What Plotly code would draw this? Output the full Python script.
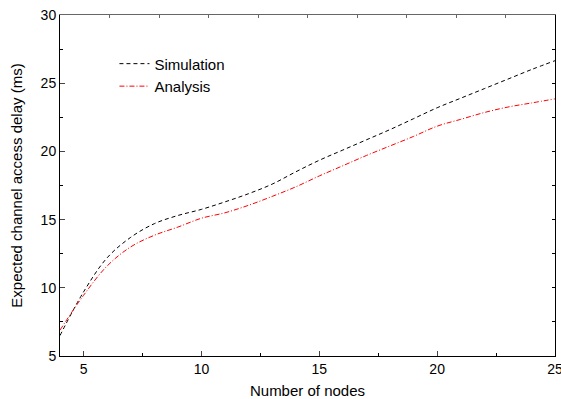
import plotly.graph_objects as go

nodes = list(range(4, 26))
simulation = [6.5, 9.7, 12.2, 13.7, 14.7, 15.3, 15.75, 16.3, 16.9, 17.6, 18.5,
              19.35, 20.1, 20.85, 21.6, 22.4, 23.2, 23.9, 24.6, 25.3, 26.0, 26.65]
analysis = [6.9, 9.45, 11.6, 13.0, 13.85, 14.45, 15.1, 15.5, 16.05, 16.7, 17.4,
            18.2, 18.95, 19.7, 20.4, 21.1, 21.85, 22.35, 22.85, 23.25, 23.55, 23.85]
x_ticks = [5, 10, 15, 20, 25]
y_ticks = [5, 10, 15, 20, 25, 30]

font = dict(family="Liberation Sans, Arial, sans-serif", size=14, color="black")

fig = go.Figure()
fig.add_trace(go.Scatter(x=nodes, y=simulation, mode="lines", name="Simulation",
                         line=dict(color="black", width=1, dash="4px,3px", shape="spline")))
fig.add_trace(go.Scatter(x=nodes, y=analysis, mode="lines", name="Analysis",
                         xaxis="x2", yaxis="y2",
                         line=dict(color="red", width=1, dash="5px,2px,1px,2px", shape="spline")))

fig.update_layout(
    width=561, height=399,
    margin=dict(l=60, r=6, t=15, b=43, autoexpand=False),
    paper_bgcolor="white", plot_bgcolor="white",
    font=font,
    showlegend=True,
    legend=dict(x=0.11, y=0.905, xanchor="left", yanchor="top",
                bgcolor="rgba(0,0,0,0)", font=dict(size=15), tracegroupgap=0),
    xaxis=dict(range=[4, 25], tickvals=x_ticks, ticks="inside", ticklen=5,
               showline=True, linecolor="black", linewidth=1, showgrid=False,
               zeroline=False, tickfont=dict(size=14), ticklabeloverflow="allow",
               automargin=False,
               minor=dict(dtick=2.5, tick0=5, ticks="inside", ticklen=3, tickcolor="black"),
               title=dict(text="Number of nodes", font=dict(size=15), standoff=15)),
    yaxis=dict(range=[5, 30], tickvals=y_ticks, ticks="inside", ticklen=5,
               showline=True, linecolor="black", linewidth=1, showgrid=False,
               zeroline=False, tickfont=dict(size=14), ticklabeloverflow="allow",
               automargin=False,
               minor=dict(dtick=2.5, tick0=5, ticks="inside", ticklen=3, tickcolor="black"),
               title=dict(text="Expected channel access delay (ms)", font=dict(size=15), standoff=14)),
    xaxis2=dict(overlaying="x", side="top", range=[4, 25], tick0=4, dtick=2.1,
                ticks="inside", ticklen=3, tickcolor="#666", showticklabels=False,
                automargin=False,
                showline=True, linecolor="#666", linewidth=1, showgrid=False, zeroline=False),
    yaxis2=dict(overlaying="y", side="right", range=[5, 30], tick0=5, dtick=2.5,
                ticks="inside", ticklen=3, tickcolor="black", showticklabels=False,
                automargin=False,
                showline=True, linecolor="black", linewidth=1, showgrid=False, zeroline=False),
)

fig.write_html("out.html", config={"displayModeBar": False},
               post_script="document.body.style.margin='0';")
